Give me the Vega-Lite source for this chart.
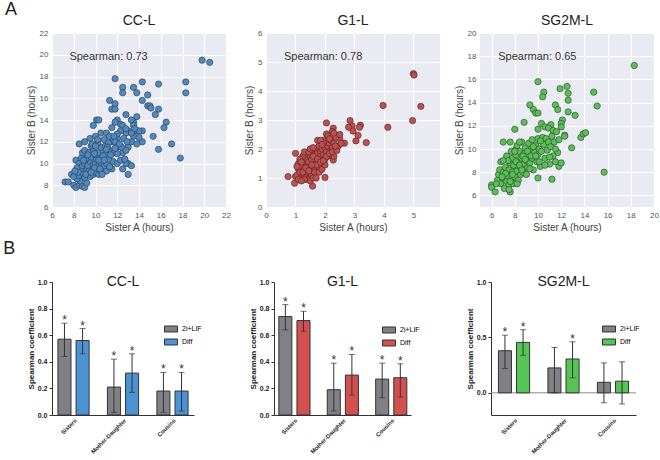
{
"$schema":"https://vega.github.io/schema/vega-lite/v6.json",
"padding":{"left":3,"top":1,"right":2,"bottom":0},
"config":{"font":"Liberation Sans","view":{"stroke":null},"title":{"fontSize":14,"fontWeight":"normal","color":"#222"},"axis":{"labelOverlap":false}},
"datasets":{
"cc":[{"x":19.8,"y":19.5},{"x":20.5,"y":19.3},{"x":11.8,"y":17.8},{"x":12.5,"y":17.0},{"x":12.5,"y":16.5},{"x":13.5,"y":17.0},{"x":13.8,"y":16.5},{"x":14.3,"y":17.5},{"x":15.8,"y":17.3},{"x":18.3,"y":17.5},{"x":18.3,"y":16.5},{"x":14.8,"y":16.3},{"x":14.3,"y":15.8},{"x":11.3,"y":15.8},{"x":11.8,"y":15.5},{"x":11.5,"y":15.0},{"x":11.8,"y":15.0},{"x":14.8,"y":15.3},{"x":15.0,"y":15.3},{"x":15.1,"y":15.1},{"x":15.8,"y":15.0},{"x":15.5,"y":14.5},{"x":16.5,"y":13.8},{"x":16.3,"y":13.3},{"x":17.0,"y":11.8},{"x":17.8,"y":10.5},{"x":15.8,"y":11.3},{"x":15.3,"y":12.5},{"x":14.3,"y":12.0},{"x":14.3,"y":13.0},{"x":13.8,"y":14.3},{"x":13.5,"y":13.8},{"x":13.3,"y":14.0},{"x":12.8,"y":14.5},{"x":12.0,"y":14.0},{"x":12.3,"y":13.6},{"x":10.1,"y":14.0},{"x":10.3,"y":14.0},{"x":9.8,"y":13.5},{"x":12.5,"y":13.5},{"x":13.5,"y":13.5},{"x":13.8,"y":13.0},{"x":14.0,"y":13.0},{"x":13.0,"y":13.0},{"x":12.8,"y":12.8},{"x":13.5,"y":12.5},{"x":13.3,"y":12.0},{"x":13.8,"y":11.8},{"x":13.0,"y":11.5},{"x":12.5,"y":11.0},{"x":12.0,"y":11.5},{"x":11.5,"y":11.0},{"x":13.0,"y":10.0},{"x":13.3,"y":9.8},{"x":13.0,"y":9.0},{"x":12.8,"y":10.0},{"x":12.5,"y":9.5},{"x":8.5,"y":11.8},{"x":13.3,"y":12.8},{"x":13.6,"y":13.2},{"x":14.0,"y":12.4},
{"x":7.2,"y":8.3},{"x":7.5,"y":8.3},{"x":8.0,"y":8.0},{"x":8.2,"y":7.8},{"x":8.5,"y":8.0},{"x":8.8,"y":7.9},{"x":9.0,"y":7.8},{"x":9.2,"y":8.2},{"x":8.6,"y":8.4},{"x":8.3,"y":8.6},{"x":7.8,"y":9.0},{"x":8.0,"y":8.8},{"x":8.5,"y":8.9},{"x":8.8,"y":9.1},{"x":9.0,"y":8.7},{"x":9.3,"y":9.0},{"x":9.5,"y":8.8},{"x":9.8,"y":9.0},{"x":10.0,"y":9.2},{"x":9.2,"y":9.4},{"x":8.6,"y":9.5},{"x":10.3,"y":9.0},{"x":10.5,"y":9.3},{"x":9.7,"y":9.5},{"x":11.0,"y":9.3},{"x":11.5,"y":9.5},{"x":8.2,"y":10.3},{"x":8.5,"y":10.0},{"x":8.3,"y":9.6},{"x":8.8,"y":9.8},{"x":9.0,"y":10.0},{"x":9.3,"y":9.8},{"x":9.5,"y":10.2},{"x":9.8,"y":9.9},{"x":10.0,"y":10.0},{"x":10.2,"y":9.7},{"x":10.5,"y":10.1},{"x":10.8,"y":9.8},{"x":11.0,"y":10.0},{"x":11.3,"y":9.7},{"x":11.6,"y":10.2},{"x":12.0,"y":10.0},{"x":9.2,"y":10.5},{"x":8.7,"y":10.5},{"x":9.6,"y":10.6},{"x":10.1,"y":10.4},{"x":10.6,"y":10.5},{"x":11.2,"y":10.4},{"x":12.3,"y":10.3},{"x":12.7,"y":10.4},{"x":8.8,"y":11.0},{"x":9.0,"y":11.2},{"x":9.4,"y":11.0},{"x":9.8,"y":11.3},{"x":10.0,"y":10.8},{"x":10.3,"y":11.0},{"x":10.7,"y":11.2},{"x":11.0,"y":10.9},{"x":11.3,"y":11.2},{"x":11.7,"y":11.0},{"x":12.0,"y":10.9},{"x":10.5,"y":11.5},{"x":9.6,"y":11.6},{"x":10.9,"y":11.6},{"x":11.8,"y":11.4},{"x":12.4,"y":11.5},{"x":12.8,"y":11.2},{"x":9.0,"y":12.0},{"x":9.5,"y":12.3},{"x":10.0,"y":12.5},{"x":10.5,"y":12.8},{"x":11.0,"y":12.8},{"x":11.3,"y":12.5},{"x":11.5,"y":12.0},{"x":12.0,"y":12.3},{"x":11.8,"y":12.0},{"x":10.8,"y":12.2},{"x":10.2,"y":11.9},{"x":9.7,"y":11.8},{"x":11.2,"y":11.9},{"x":12.2,"y":11.8},{"x":12.6,"y":12.3},{"x":12.9,"y":12.0},{"x":12.3,"y":13.0},{"x":12.8,"y":13.2},{"x":11.5,"y":13.3},{"x":12.0,"y":12.7},{"x":11.8,"y":13.8},{"x":9.4,"y":9.3},{"x":9.9,"y":9.6},{"x":10.4,"y":9.5},{"x":10.7,"y":10.7},{"x":11.1,"y":11.5},{"x":9.1,"y":9.0},{"x":8.9,"y":10.3},{"x":10.3,"y":10.3},{"x":11.4,"y":10.8},{"x":10.0,"y":11.6},{"x":9.3,"y":10.8},{"x":10.6,"y":9.0},{"x":8.4,"y":9.2},{"x":9.6,"y":9.2},{"x":11.7,"y":12.5},{"x":11.0,"y":11.3},{"x":10.2,"y":12.2},{"x":9.9,"y":10.9},{"x":8.1,"y":9.3},{"x":10.8,"y":10.3}],
"g1":[{"x":5.0,"y":4.6},{"x":5.02,"y":4.55},{"x":3.97,"y":3.5},{"x":5.25,"y":3.47},{"x":4.97,"y":2.98},{"x":4.13,"y":2.75},{"x":3.4,"y":2.22},{"x":3.05,"y":2.28},{"x":3.12,"y":2.47},{"x":2.85,"y":2.98},{"x":2.92,"y":2.8},{"x":3.2,"y":2.82},{"x":3.17,"y":2.75},{"x":2.8,"y":2.75},{"x":2.95,"y":2.62},{"x":2.66,"y":2.2},{"x":2.5,"y":2.35},{"x":2.45,"y":2.1},{"x":2.55,"y":2.2},{"x":2.35,"y":2.4},{"x":2.28,"y":2.72},{"x":2.25,"y":2.6},{"x":2.05,"y":2.9},{"x":2.05,"y":2.52},{"x":2.1,"y":2.45},{"x":0.75,"y":1.05},{"x":0.97,"y":0.82},{"x":1.58,"y":0.72},{"x":2.0,"y":1.02},{"x":1.0,"y":1.85},{"x":2.28,"y":1.62},{"x":2.3,"y":1.75},
{"x":1.0,"y":1.05},{"x":1.05,"y":1.1},{"x":1.1,"y":1.3},{"x":1.1,"y":1.5},{"x":1.15,"y":1.2},{"x":1.2,"y":1.4},{"x":1.2,"y":1.0},{"x":1.25,"y":1.6},{"x":1.3,"y":1.3},{"x":1.3,"y":1.1},{"x":1.35,"y":1.5},{"x":1.35,"y":1.8},{"x":1.4,"y":1.2},{"x":1.4,"y":1.4},{"x":1.4,"y":1.65},{"x":1.45,"y":1.0},{"x":1.5,"y":1.3},{"x":1.5,"y":1.5},{"x":1.5,"y":1.75},{"x":1.55,"y":1.1},{"x":1.55,"y":1.95},{"x":1.6,"y":1.4},{"x":1.6,"y":1.6},{"x":1.6,"y":1.25},{"x":1.65,"y":1.8},{"x":1.65,"y":1.5},{"x":1.7,"y":1.3},{"x":1.7,"y":1.7},{"x":1.7,"y":2.0},{"x":1.75,"y":1.55},{"x":1.75,"y":1.85},{"x":1.8,"y":1.4},{"x":1.8,"y":1.65},{"x":1.8,"y":2.1},{"x":1.85,"y":1.9},{"x":1.85,"y":1.75},{"x":1.9,"y":1.55},{"x":1.9,"y":2.0},{"x":1.95,"y":2.3},{"x":1.95,"y":1.8},{"x":2.0,"y":1.65},{"x":2.0,"y":2.05},{"x":2.0,"y":2.2},{"x":2.05,"y":1.9},{"x":2.1,"y":2.1},{"x":2.1,"y":1.75},{"x":2.15,"y":2.2},{"x":2.2,"y":1.95},{"x":2.2,"y":2.3},{"x":2.25,"y":2.05},{"x":2.3,"y":2.2},{"x":1.25,"y":1.75},{"x":1.15,"y":1.65},{"x":1.3,"y":1.9},{"x":1.45,"y":1.9},{"x":1.5,"y":2.0},{"x":1.6,"y":2.05},{"x":1.75,"y":2.3},{"x":1.85,"y":2.3},{"x":1.05,"y":1.4},{"x":1.2,"y":1.55},{"x":1.35,"y":1.0},{"x":1.45,"y":1.55},{"x":1.55,"y":1.65},{"x":1.65,"y":1.2},{"x":1.7,"y":1.45},{"x":1.8,"y":1.2},{"x":1.9,"y":1.3},{"x":2.0,"y":1.45},{"x":1.4,"y":0.95},{"x":1.3,"y":0.95},{"x":1.5,"y":0.9},{"x":1.6,"y":1.0},{"x":1.7,"y":1.0},{"x":1.25,"y":1.2},{"x":1.35,"y":1.35},{"x":1.45,"y":1.25},{"x":1.55,"y":1.45},{"x":1.6,"y":1.75},{"x":1.75,"y":1.65},{"x":1.85,"y":1.55},{"x":1.95,"y":1.6},{"x":2.05,"y":1.75},{"x":2.15,"y":1.85},{"x":2.25,"y":1.9},{"x":1.1,"y":0.95},{"x":1.2,"y":0.9},{"x":1.9,"y":2.15},{"x":2.4,"y":1.95},{"x":2.35,"y":2.1},{"x":2.5,"y":2.5},{"x":2.3,"y":2.55},{"x":2.15,"y":2.35}],
"sg":[{"x":18.3,"y":17.2},{"x":10.0,"y":15.8},{"x":12.5,"y":15.4},{"x":11.9,"y":15.2},{"x":12.6,"y":14.8},{"x":14.8,"y":14.9},{"x":10.5,"y":14.9},{"x":10.4,"y":14.5},{"x":12.6,"y":14.2},{"x":15.1,"y":13.7},{"x":9.3,"y":13.8},{"x":9.6,"y":13.4},{"x":9.8,"y":13.1},{"x":10.0,"y":13.1},{"x":11.5,"y":13.8},{"x":11.7,"y":13.4},{"x":12.6,"y":13.2},{"x":13.2,"y":12.9},{"x":8.8,"y":12.3},{"x":10.3,"y":12.2},{"x":10.6,"y":11.9},{"x":11.1,"y":12.1},{"x":12.1,"y":12.5},{"x":12.0,"y":12.2},{"x":12.0,"y":11.9},{"x":10.0,"y":11.7},{"x":10.9,"y":11.8},{"x":11.3,"y":11.6},{"x":11.6,"y":11.5},{"x":12.3,"y":11.2},{"x":12.3,"y":11.1},{"x":13.7,"y":11.0},{"x":13.9,"y":11.3},{"x":14.1,"y":11.4},{"x":12.9,"y":10.1},{"x":15.7,"y":8.0},{"x":11.2,"y":7.4},{"x":11.8,"y":8.5},{"x":11.5,"y":8.9},{"x":12.0,"y":8.8},{"x":11.7,"y":9.7},{"x":11.3,"y":9.4},{"x":7.0,"y":10.6},{"x":6.0,"y":6.9},{"x":6.0,"y":6.7},{"x":6.3,"y":6.3},{"x":7.6,"y":6.3},{"x":10.0,"y":7.5},{"x":8.0,"y":11.7},{"x":7.6,"y":10.6},{"x":8.1,"y":10.0},
{"x":6.5,"y":7.3},{"x":6.6,"y":7.8},{"x":6.7,"y":8.2},{"x":6.8,"y":8.9},{"x":6.8,"y":7.0},{"x":7.0,"y":7.5},{"x":7.0,"y":8.0},{"x":7.1,"y":6.6},{"x":7.2,"y":8.4},{"x":7.3,"y":7.2},{"x":7.3,"y":9.4},{"x":7.4,"y":7.7},{"x":7.5,"y":8.2},{"x":7.5,"y":6.9},{"x":7.6,"y":8.8},{"x":7.7,"y":7.4},{"x":7.7,"y":9.8},{"x":7.8,"y":8.0},{"x":7.8,"y":9.2},{"x":7.9,"y":7.0},{"x":8.0,"y":8.5},{"x":8.0,"y":7.6},{"x":8.1,"y":9.5},{"x":8.2,"y":8.1},{"x":8.2,"y":10.3},{"x":8.3,"y":7.3},{"x":8.3,"y":8.9},{"x":8.4,"y":9.8},{"x":8.5,"y":8.4},{"x":8.5,"y":7.8},{"x":8.6,"y":9.2},{"x":8.6,"y":10.6},{"x":8.7,"y":8.0},{"x":8.8,"y":9.6},{"x":8.8,"y":8.7},{"x":8.9,"y":10.1},{"x":9.0,"y":9.0},{"x":9.0,"y":7.8},{"x":9.1,"y":8.4},{"x":9.2,"y":10.5},{"x":9.2,"y":9.5},{"x":9.3,"y":8.8},{"x":9.4,"y":10.0},{"x":9.5,"y":9.2},{"x":9.5,"y":10.8},{"x":9.6,"y":8.2},{"x":9.7,"y":9.7},{"x":9.8,"y":10.3},{"x":9.9,"y":8.9},{"x":10.0,"y":9.5},{"x":10.0,"y":10.9},{"x":10.1,"y":10.0},{"x":10.2,"y":8.5},{"x":10.3,"y":9.8},{"x":10.4,"y":11.0},{"x":10.5,"y":10.4},{"x":10.6,"y":9.2},{"x":10.7,"y":10.9},{"x":10.8,"y":9.9},{"x":10.9,"y":10.6},{"x":11.0,"y":8.7},{"x":11.1,"y":10.2},{"x":11.2,"y":11.1},{"x":11.4,"y":10.6},{"x":11.5,"y":10.0},{"x":11.8,"y":10.8},{"x":7.2,"y":7.9},{"x":7.6,"y":7.2},{"x":7.9,"y":8.6},{"x":8.1,"y":8.9},{"x":8.4,"y":8.6},{"x":8.7,"y":9.4},{"x":8.9,"y":9.1},{"x":9.1,"y":9.8},{"x":9.4,"y":9.4},{"x":9.6,"y":10.2},{"x":9.8,"y":9.4},{"x":10.2,"y":10.7},{"x":8.0,"y":9.8},{"x":8.4,"y":10.6},{"x":7.4,"y":9.0},{"x":6.9,"y":7.6},{"x":7.8,"y":7.8},{"x":8.6,"y":8.2},{"x":9.3,"y":8.3},{"x":10.1,"y":8.9},{"x":10.6,"y":8.6},{"x":11.0,"y":9.3},{"x":7.5,"y":6.5},{"x":8.2,"y":7.0},{"x":6.4,"y":7.0},{"x":7.0,"y":9.0}],
"bcc":[{"rel":"Sisters","g":"2i+LIF","v":0.57,"lo":0.44,"hi":0.69,"s":1},{"rel":"Sisters","g":"Diff","v":0.56,"lo":0.46,"hi":0.65,"s":1},{"rel":"Mother-Daughter","g":"2i+LIF","v":0.21,"lo":0.02,"hi":0.42,"s":1},{"rel":"Mother-Daughter","g":"Diff","v":0.315,"lo":0.17,"hi":0.46,"s":1},{"rel":"Cousins","g":"2i+LIF","v":0.18,"lo":0.02,"hi":0.32,"s":1},{"rel":"Cousins","g":"Diff","v":0.18,"lo":0.03,"hi":0.32,"s":1}],
"bg1":[{"rel":"Sisters","g":"2i+LIF","v":0.74,"lo":0.64,"hi":0.83,"s":1},{"rel":"Sisters","g":"Diff","v":0.71,"lo":0.63,"hi":0.78,"s":1},{"rel":"Mother-Daughter","g":"2i+LIF","v":0.19,"lo":0.03,"hi":0.39,"s":1},{"rel":"Mother-Daughter","g":"Diff","v":0.30,"lo":0.15,"hi":0.455,"s":1},{"rel":"Cousins","g":"2i+LIF","v":0.27,"lo":0.13,"hi":0.39,"s":1},{"rel":"Cousins","g":"Diff","v":0.28,"lo":0.135,"hi":0.385,"s":1}],
"bsg":[{"rel":"Sisters","g":"2i+LIF","v":0.38,"lo":0.22,"hi":0.52,"s":1},{"rel":"Sisters","g":"Diff","v":0.455,"lo":0.34,"hi":0.57,"s":1},{"rel":"Mother-Daughter","g":"2i+LIF","v":0.225,"lo":0.0,"hi":0.41,"s":0},{"rel":"Mother-Daughter","g":"Diff","v":0.305,"lo":0.135,"hi":0.46,"s":1},{"rel":"Cousins","g":"2i+LIF","v":0.095,"lo":-0.09,"hi":0.27,"s":0},{"rel":"Cousins","g":"Diff","v":0.105,"lo":-0.10,"hi":0.28,"s":0}]
},
"spacing":8,
"vconcat":[
{"title":{"text":"A","anchor":"start","fontSize":18,"offset":-5,"dx":-21,"frame":"bounds"},
 "bounds":"flush","spacing":40,
 "hconcat":[
 {"title":{"text":"CC-L","offset":1},"width":174,"height":174,"view":{"fill":"#EAEAF2","stroke":null},
  "layer":[
   {"data":{"name":"cc"},"mark":{"type":"circle","size":40,"color":"#4F89C0","opacity":1,"stroke":"#2B3A4A","strokeWidth":0.6},
    "encoding":{"x":{"field":"x","type":"quantitative","scale":{"domain":[6,22],"nice":false,"zero":false},"axis":{"title":"Sister A (hours)","values":[6,8,10,12,14,16,18,20,22],"format":"d","tickCount":30,"labelFlush":false,"grid":true,"gridColor":"white","domain":false,"ticks":false,"labelColor":"#555","labelFontSize":8,"titleColor":"#444","titleFontSize":10,"titleFontWeight":"normal","labelPadding":4,"titlePadding":3}},
     "y":{"field":"y","type":"quantitative","scale":{"domain":[6,22],"nice":false,"zero":false},"axis":{"title":"Sister B (hours)","values":[6,8,10,12,14,16,18,20,22],"format":"d","tickCount":30,"labelFlush":false,"grid":true,"gridColor":"white","domain":false,"ticks":false,"labelColor":"#555","labelFontSize":8,"titleColor":"#444","titleFontSize":10,"titleFontWeight":"normal","labelPadding":4,"titlePadding":3}}}},
   {"data":{"values":[{}]},"mark":{"type":"text","align":"left","baseline":"middle","fontSize":11,"color":"#333"},
    "encoding":{"x":{"datum":7.6,"type":"quantitative"},"y":{"datum":19.75,"type":"quantitative"},"text":{"value":"Spearman: 0.73"}}}
  ]},
 {"title":{"text":"G1-L","offset":1},"width":174,"height":174,"view":{"fill":"#EAEAF2","stroke":null},
  "layer":[
   {"data":{"name":"g1"},"mark":{"type":"circle","size":40,"color":"#C0504F","opacity":1,"stroke":"#4A2222","strokeWidth":0.6},
    "encoding":{"x":{"field":"x","type":"quantitative","scale":{"domain":[0,5.9],"nice":false,"zero":false},"axis":{"title":"Sister A (hours)","values":[0,1,2,3,4,5],"format":"d","tickCount":30,"labelFlush":false,"grid":true,"gridColor":"white","domain":false,"ticks":false,"labelColor":"#555","labelFontSize":8,"titleColor":"#444","titleFontSize":10,"titleFontWeight":"normal","labelPadding":4,"titlePadding":3}},
     "y":{"field":"y","type":"quantitative","scale":{"domain":[0,6],"nice":false,"zero":false},"axis":{"title":"Sister B (hours)","values":[0,1,2,3,4,5,6],"format":"d","tickCount":30,"labelFlush":false,"grid":true,"gridColor":"white","domain":false,"ticks":false,"labelColor":"#555","labelFontSize":8,"titleColor":"#444","titleFontSize":10,"titleFontWeight":"normal","labelPadding":4,"titlePadding":3}}}},
   {"data":{"values":[{}]},"mark":{"type":"text","align":"left","baseline":"middle","fontSize":11,"color":"#333"},
    "encoding":{"x":{"datum":0.61,"type":"quantitative"},"y":{"datum":5.16,"type":"quantitative"},"text":{"value":"Spearman: 0.78"}}}
  ]},
 {"title":{"text":"SG2M-L","offset":1},"width":174,"height":174,"view":{"fill":"#EAEAF2","stroke":null},
  "layer":[
   {"data":{"name":"sg"},"mark":{"type":"circle","size":40,"color":"#5DBD5A","opacity":1,"stroke":"#244A22","strokeWidth":0.6},
    "encoding":{"x":{"field":"x","type":"quantitative","scale":{"domain":[5,20],"nice":false,"zero":false},"axis":{"title":"Sister A (hours)","values":[6,8,10,12,14,16,18,20],"format":"d","tickCount":30,"labelFlush":false,"grid":true,"gridColor":"white","domain":false,"ticks":false,"labelColor":"#555","labelFontSize":8,"titleColor":"#444","titleFontSize":10,"titleFontWeight":"normal","labelPadding":4,"titlePadding":3}},
     "y":{"field":"y","type":"quantitative","scale":{"domain":[5,20],"nice":false,"zero":false},"axis":{"title":"Sister B (hours)","values":[6,8,10,12,14,16,18,20],"format":"d","tickCount":30,"labelFlush":false,"grid":true,"gridColor":"white","domain":false,"ticks":false,"labelColor":"#555","labelFontSize":8,"titleColor":"#444","titleFontSize":10,"titleFontWeight":"normal","labelPadding":4,"titlePadding":3}}}},
   {"data":{"values":[{}]},"mark":{"type":"text","align":"left","baseline":"middle","fontSize":11,"color":"#333"},
    "encoding":{"x":{"datum":6.57,"type":"quantitative"},"y":{"datum":17.9,"type":"quantitative"},"text":{"value":"Spearman: 0.65"}}}
  ]}
 ]},
{"title":{"text":"B","anchor":"start","fontSize":18,"offset":17,"dx":-24,"frame":"bounds"},
 "bounds":"flush","spacing":80,
 "resolve":{"scale":{"color":"independent"}},
 "hconcat":[
 {"title":{"text":"CC-L","offset":-11},"width":142,"height":133,"data":{"name":"bcc"},
  "encoding":{"x":{"field":"rel","type":"nominal","sort":["Sisters","Mother-Daughter","Cousins"],"scale":{"paddingInner":0.37,"paddingOuter":0.12},"axis":{"title":null,"labelAngle":-45,"labelFontSize":5.8,"labelFontWeight":"bold","labelColor":"#222","ticks":false,"domainColor":"#333","labelPadding":2}},
   "xOffset":{"field":"g","type":"nominal","sort":["2i+LIF","Diff"],"scale":{"paddingInner":0.28}}},
  "layer":[
   {"mark":{"type":"bar","stroke":"#333","strokeWidth":1},
    "encoding":{"y":{"field":"v","type":"quantitative","scale":{"domain":[0,1],"nice":false},"axis":{"title":"Spearman coefficient","values":[0,0.2,0.4,0.6,0.8,1],"tickCount":30,"format":".1f","grid":false,"domainColor":"#333","tickColor":"#333","tickSize":3,"labelFontSize":7,"labelFontWeight":"bold","labelColor":"#222","titleFontSize":8,"titleFontWeight":"bold","titleColor":"#222","titlePadding":2}},
     "color":{"field":"g","type":"nominal","scale":{"domain":["2i+LIF","Diff"],"range":["#808086","#4C93D3"]},"legend":{"title":null,"orient":"none","legendX":112,"legendY":40,"symbolType":"M-1,-0.46H1V0.46H-1Z","symbolSize":169,"symbolStrokeColor":"#333","symbolStrokeWidth":1,"labelFontSize":7,"rowPadding":1}}}},
   {"mark":{"type":"rule","color":"#333"},"encoding":{"y":{"field":"lo","type":"quantitative"},"y2":{"field":"hi"}}},
   {"mark":{"type":"tick","color":"#333","size":6,"thickness":1},"encoding":{"y":{"field":"hi","type":"quantitative"}}},
   {"mark":{"type":"tick","color":"#333","size":6,"thickness":1},"encoding":{"y":{"field":"lo","type":"quantitative"}}},
   {"transform":[{"filter":"datum.s == 1"}],"mark":{"type":"text","text":"*","fontSize":12,"baseline":"alphabetic","dy":1,"color":"#333"},"encoding":{"y":{"field":"hi","type":"quantitative"}}}
  ]},
 {"title":{"text":"G1-L","offset":-11},"width":137,"height":133,"data":{"name":"bg1"},
  "encoding":{"x":{"field":"rel","type":"nominal","sort":["Sisters","Mother-Daughter","Cousins"],"scale":{"paddingInner":0.37,"paddingOuter":0.1},"axis":{"title":null,"labelAngle":-45,"labelFontSize":5.8,"labelFontWeight":"bold","labelColor":"#222","ticks":false,"domainColor":"#333","labelPadding":2}},
   "xOffset":{"field":"g","type":"nominal","sort":["2i+LIF","Diff"],"scale":{"paddingInner":0.28}}},
  "layer":[
   {"mark":{"type":"bar","stroke":"#333","strokeWidth":1},
    "encoding":{"y":{"field":"v","type":"quantitative","scale":{"domain":[0,1],"nice":false},"axis":{"title":"Spearman coefficient","values":[0,0.2,0.4,0.6,0.8,1],"tickCount":30,"format":".1f","grid":false,"domainColor":"#333","tickColor":"#333","tickSize":3,"labelFontSize":7,"labelFontWeight":"bold","labelColor":"#222","titleFontSize":8,"titleFontWeight":"bold","titleColor":"#222","titlePadding":2}},
     "color":{"field":"g","type":"nominal","scale":{"domain":["2i+LIF","Diff"],"range":["#808086","#D2504F"]},"legend":{"title":null,"orient":"none","legendX":108,"legendY":41,"symbolType":"M-1,-0.46H1V0.46H-1Z","symbolSize":169,"symbolStrokeColor":"#333","symbolStrokeWidth":1,"labelFontSize":7,"rowPadding":1}}}},
   {"mark":{"type":"rule","color":"#333"},"encoding":{"y":{"field":"lo","type":"quantitative"},"y2":{"field":"hi"}}},
   {"mark":{"type":"tick","color":"#333","size":6,"thickness":1},"encoding":{"y":{"field":"hi","type":"quantitative"}}},
   {"mark":{"type":"tick","color":"#333","size":6,"thickness":1},"encoding":{"y":{"field":"lo","type":"quantitative"}}},
   {"transform":[{"filter":"datum.s == 1"}],"mark":{"type":"text","text":"*","fontSize":12,"baseline":"alphabetic","dy":1,"color":"#333"},"encoding":{"y":{"field":"hi","type":"quantitative"}}}
  ]},
 {"title":{"text":"SG2M-L","offset":-11},"width":145,"height":133,"data":{"name":"bsg"},
  "encoding":{"x":{"field":"rel","type":"nominal","sort":["Sisters","Mother-Daughter","Cousins"],"scale":{"paddingInner":0.37,"paddingOuter":0.15},"axis":{"title":null,"labelAngle":-45,"labelFontSize":5.8,"labelFontWeight":"bold","labelColor":"#222","ticks":false,"domainColor":"#333","labelPadding":2}},
   "xOffset":{"field":"g","type":"nominal","sort":["2i+LIF","Diff"],"scale":{"paddingInner":0.28}}},
  "layer":[
   {"data":{"values":[{}]},"mark":{"type":"rule","color":"#888","strokeWidth":1},"encoding":{"y":{"datum":0,"type":"quantitative"},"x":null,"xOffset":null}},
   {"mark":{"type":"bar","stroke":"#333","strokeWidth":1},
    "encoding":{"y":{"field":"v","type":"quantitative","scale":{"domain":[-0.2,1],"nice":false},"axis":{"title":"Spearman coefficient","values":[0,0.5,1],"tickCount":30,"format":".1f","grid":false,"domainColor":"#333","tickColor":"#333","tickSize":3,"labelFontSize":7,"labelFontWeight":"bold","labelColor":"#222","titleFontSize":8,"titleFontWeight":"bold","titleColor":"#222","titlePadding":2}},
     "color":{"field":"g","type":"nominal","scale":{"domain":["2i+LIF","Diff"],"range":["#808086","#55C655"]},"legend":{"title":null,"orient":"none","legendX":111,"legendY":40,"symbolType":"M-1,-0.46H1V0.46H-1Z","symbolSize":169,"symbolStrokeColor":"#333","symbolStrokeWidth":1,"labelFontSize":7,"rowPadding":1}}}},
   {"mark":{"type":"rule","color":"#333"},"encoding":{"y":{"field":"lo","type":"quantitative"},"y2":{"field":"hi"}}},
   {"mark":{"type":"tick","color":"#333","size":6,"thickness":1},"encoding":{"y":{"field":"hi","type":"quantitative"}}},
   {"mark":{"type":"tick","color":"#333","size":6,"thickness":1},"encoding":{"y":{"field":"lo","type":"quantitative"}}},
   {"transform":[{"filter":"datum.s == 1"}],"mark":{"type":"text","text":"*","fontSize":12,"baseline":"alphabetic","dy":1,"color":"#333"},"encoding":{"y":{"field":"hi","type":"quantitative"}}}
  ]}
 ]}
]
}
